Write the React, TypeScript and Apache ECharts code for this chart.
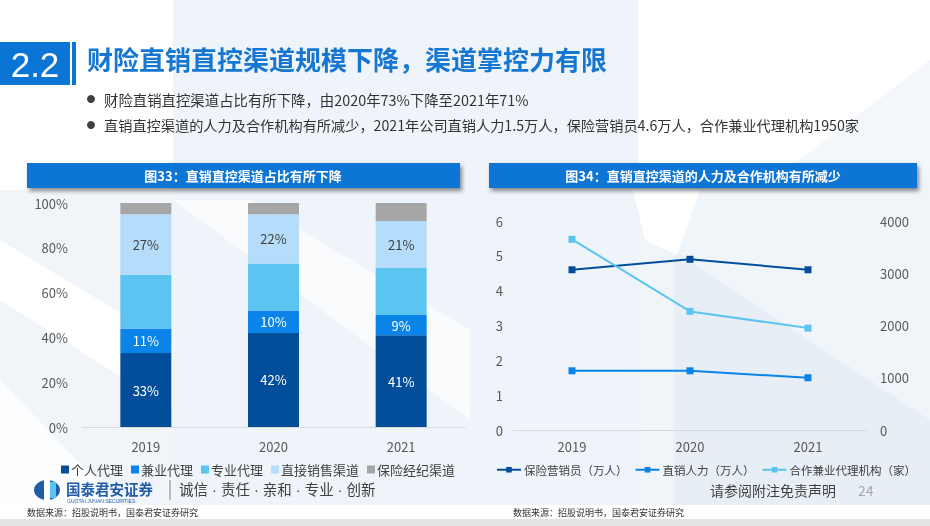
import React, { useEffect, useRef } from "react";
import * as echarts from "echarts";

const barYears = ["2019", "2020", "2021"];
const barSeriesNames = ["个人代理", "兼业代理", "专业代理", "直接销售渠道", "保险经纪渠道"];
const personalAgent = [33, 42, 41];
const partTimeAgent = [11, 10, 9];
const professionalAgent = [24, 21, 21];
const directSales = [27, 22, 21];
const brokerChannel = [5, 5, 8];
const barColors = ["#034E9B", "#0A84E8", "#5BC4F1", "#B5DDFB", "#A6A6A6"];

const lineYears = ["2019", "2020", "2021"];
const lineSeriesNames = ["保险营销员（万人）", "直销人力（万人）", "合作兼业代理机构（家）"];
const salesAgents = [4.6, 4.9, 4.6];
const directStaff = [1.7, 1.7, 1.5];
const partnerAgencies = [3650, 2270, 1950];
const lineColors = ["#034E9B", "#0A84E8", "#5BC4F1"];

const leftTicks = { min: 0, max: 6, interval: 1 };
const rightTicks = { min: 0, max: 4000, interval: 1000 };

const FONT = "'Noto Sans CJK SC', 'Noto Sans', sans-serif";

export default function App() {
  const ref = useRef<HTMLDivElement>(null);
  useEffect(() => {
    if (!ref.current) return;
    const chart = echarts.init(ref.current, null, { renderer: "svg" });
    const barData = [personalAgent, partTimeAgent, professionalAgent, directSales, brokerChannel];
    const labelOn = [true, true, false, true, false];
    const labelColor = ["#FFFFFF", "#FFFFFF", "#404040", "#404040", "#404040"];
    const barSeries = barSeriesNames.map((name, i) => ({
      name,
      type: "bar",
      stack: "total",
      xAxisIndex: 0,
      yAxisIndex: 0,
      barWidth: 51,
      data: barData[i],
      itemStyle: { color: barColors[i] },
      label: {
        show: labelOn[i],
        position: "inside",
        formatter: "{c}%",
        color: labelColor[i],
        fontSize: 13,
        fontFamily: FONT,
      },
    }));
    const lineData = [salesAgents, directStaff, partnerAgencies];
    const lineSeries = lineSeriesNames.map((name, i) => ({
      name,
      type: "line",
      xAxisIndex: 1,
      yAxisIndex: i === 2 ? 2 : 1,
      data: lineData[i],
      symbol: "rect",
      symbolSize: 7,
      lineStyle: { color: lineColors[i], width: 2 },
      itemStyle: { color: lineColors[i] },
    }));

    const bg = [
      { type: "rect", shape: { x: 0, y: 0, width: 930, height: 526 }, style: { fill: "#FFFFFF" }, z: -10 },
      { type: "rect", shape: { x: 173, y: 0, width: 465, height: 505 }, style: { fill: "#EFF4FA" }, z: -9 },
      { type: "rect", shape: { x: 0, y: 190, width: 173, height: 315 }, style: { fill: "#F1F5FA" }, z: -9 },
      { type: "rect", shape: { x: 638, y: 175, width: 292, height: 330 }, style: { fill: "#F0F5FA" }, z: -9 },
      { type: "polygon", shape: { points: [[0, 240], [0, 300], [173, 410], [173, 345]] }, style: { fill: "#FFFFFF" }, z: -8 },
      { type: "polygon", shape: { points: [[0, 380], [0, 505], [120, 505]] }, style: { fill: "#FFFFFF", opacity: 0.8 }, z: -8 },
      { type: "polygon", shape: { points: [[173, 200], [250, 200], [470, 330], [470, 420]] }, style: { fill: "#FFFFFF", opacity: 0.6 }, z: -8 },
      { type: "polygon", shape: { points: [[674, 250], [930, 420], [930, 505], [674, 505]] }, style: { fill: "#E8EEF6" }, z: -8 },
      { type: "polygon", shape: { points: [[633, 190], [700, 190], [677, 255], [645, 240]] }, style: { fill: "#FFFFFF" }, z: -8 },
      { type: "polygon", shape: { points: [[930, 60], [930, 175], [780, 175]] }, style: { fill: "#F3F7FB" }, z: -8 },
      { type: "rect", shape: { x: 0, y: 519, width: 930, height: 7 }, style: { fill: "#E3E3E3" }, z: -7 },
    ];

    const fg = [
      { type: "rect", shape: { x: 0, y: 42, width: 70, height: 43 }, style: { fill: "#0B75D5" } },
      { type: "rect", shape: { x: 72, y: 42, width: 4, height: 43 }, style: { fill: "#0B75D5" } },
      { type: "text", x: 35, y: 64, style: { text: "2.2", fill: "#FFFFFF", font: `35px 'Liberation Sans', Arial, sans-serif`, align: "center", verticalAlign: "middle" } },
      { type: "text", x: 87, y: 58, style: { text: "财险直销直控渠道规模下降，渠道掌控力有限", fill: "#1677D2", font: `bold 26px ${FONT}`, verticalAlign: "middle" } },
      { type: "circle", shape: { cx: 91, cy: 99, r: 4 }, style: { fill: "#404040" } },
      { type: "text", x: 104, y: 99, style: { text: "财险直销直控渠道占比有所下降，由2020年73%下降至2021年71%", fill: "#333333", font: `14.4px ${FONT}`, verticalAlign: "middle" } },
      { type: "circle", shape: { cx: 91, cy: 125, r: 4 }, style: { fill: "#404040" } },
      { type: "text", x: 104, y: 125, style: { text: "直销直控渠道的人力及合作机构有所减少，2021年公司直销人力1.5万人，保险营销员4.6万人，合作兼业代理机构1950家", fill: "#333333", font: `14.2px ${FONT}`, verticalAlign: "middle" } },
      { type: "rect", shape: { x: 27, y: 163, width: 433, height: 25 }, style: { fill: "#0A75D6", shadowBlur: 4, shadowOffsetX: 2, shadowOffsetY: 3, shadowColor: "rgba(0,0,0,0.45)" } },
      { type: "text", x: 243, y: 175.5, style: { text: "图33：直销直控渠道占比有所下降", fill: "#FFFFFF", font: `bold 13px ${FONT}`, align: "center", verticalAlign: "middle" } },
      { type: "rect", shape: { x: 489, y: 163, width: 428, height: 25 }, style: { fill: "#0A75D6", shadowBlur: 4, shadowOffsetX: 2, shadowOffsetY: 3, shadowColor: "rgba(0,0,0,0.45)" } },
      { type: "text", x: 703, y: 175.5, style: { text: "图34：直销直控渠道的人力及合作机构有所减少", fill: "#FFFFFF", font: `bold 13px ${FONT}`, align: "center", verticalAlign: "middle" } },
      // logo
      { type: "ellipse", shape: { cx: 47, cy: 490, rx: 13, ry: 10 }, style: { fill: "#1F5DA8" } },
      { type: "rect", shape: { x: 44, y: 479, width: 6, height: 22 }, style: { fill: "#FFFFFF" } },
      { type: "rect", shape: { x: 50, y: 482, width: 6, height: 16 }, style: { fill: "#5BC4F1" } },
      { type: "text", x: 66, y: 488, style: { text: "国泰君安证券", fill: "#1F5DA8", font: `bold 14.5px ${FONT}`, verticalAlign: "middle" } },
      { type: "text", x: 67, y: 501, style: { text: "GUOTAI JUNAN SECURITIES", fill: "#1F5DA8", font: `5px 'Liberation Sans', sans-serif`, verticalAlign: "middle" } },
      { type: "line", shape: { x1: 170, y1: 480, x2: 170, y2: 500 }, style: { stroke: "#808080", lineWidth: 1 } },
      { type: "text", x: 179, y: 490, style: { text: "诚信 · 责任 · 亲和 · 专业 · 创新", fill: "#404040", font: `14.5px 'Liberation Sans', 'Noto Sans CJK SC', sans-serif`, verticalAlign: "middle" } },
      { type: "text", x: 710, y: 490, style: { text: "请参阅附注免责声明", fill: "#404040", font: `14px ${FONT}`, verticalAlign: "middle" } },
      { type: "text", x: 858, y: 490, style: { text: "24", fill: "#A6A6A6", font: `14px ${FONT}`, verticalAlign: "middle" } },
      { type: "text", x: 27, y: 512, style: { text: "数据来源：招股说明书，国泰君安证券研究", fill: "#333333", font: `9px ${FONT}`, verticalAlign: "middle" } },
      { type: "text", x: 513, y: 512, style: { text: "数据来源：招股说明书，国泰君安证券研究", fill: "#333333", font: `9px ${FONT}`, verticalAlign: "middle" } },
    ];

    const axisLabel = { color: "#595959", fontSize: 13, fontFamily: FONT };
    chart.setOption({
      animation: false,
      textStyle: { fontFamily: FONT },
      graphic: [...bg, ...fg],
      grid: [
        { left: 82, right: 465, top: 203, bottom: 99 },
        { left: 513, right: 63, top: 221, bottom: 96 },
      ],
      legend: [
        {
          data: barSeriesNames,
          left: 56,
          top: 458,
          icon: "rect",
          itemWidth: 8,
          itemHeight: 8,
          itemGap: 8,
          textStyle: { color: "#404040", fontSize: 13, fontFamily: FONT, padding: [0, 0, 0, -3] },
        },
        {
          data: lineSeriesNames,
          left: 491,
          top: 459,
          width: 439,
          itemWidth: 24,
          itemHeight: 7,
          itemGap: 7,
          textStyle: { color: "#404040", fontSize: 11.5, fontFamily: FONT, padding: [0, 0, 0, -2] },
        },
      ],
      xAxis: [
        {
          type: "category",
          gridIndex: 0,
          data: barYears,
          axisLine: { lineStyle: { color: "#D9D9D9" } },
          axisTick: { show: false },
          axisLabel: { ...axisLabel, margin: 13 },
        },
        {
          type: "category",
          gridIndex: 1,
          data: lineYears,
          axisLine: { lineStyle: { color: "#D9D9D9" } },
          axisTick: { show: false },
          axisLabel: { ...axisLabel, margin: 10 },
        },
      ],
      yAxis: [
        {
          type: "value",
          gridIndex: 0,
          min: 0,
          max: 100,
          interval: 20,
          axisLabel: { ...axisLabel, formatter: "{value}%", margin: 14 },
          splitLine: { show: false },
          axisLine: { show: false },
        },
        {
          type: "value",
          gridIndex: 1,
          position: "left",
          ...leftTicks,
          axisLabel: { ...axisLabel, margin: 10 },
          splitLine: { show: false },
          axisLine: { show: false },
        },
        {
          type: "value",
          gridIndex: 1,
          position: "right",
          ...rightTicks,
          axisLabel: { ...axisLabel, margin: 13, formatter: (v: number) => String(v) },
          splitLine: { show: false },
          axisLine: { show: false },
        },
      ],
      series: [...barSeries, ...lineSeries],
    });
    return () => chart.dispose();
  }, []);
  return (
    <div
      ref={ref}
      style={{ position: "fixed", left: 0, top: 0, width: 930, height: 526 }}
    />
  );
}
